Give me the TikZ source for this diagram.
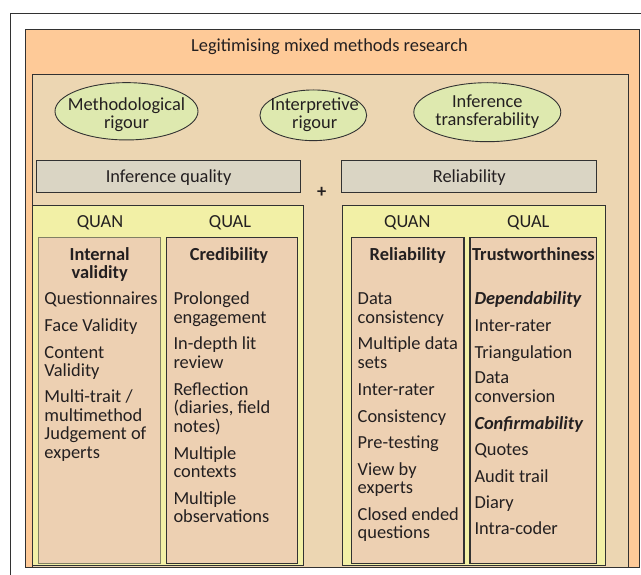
\documentclass[tikz,border=0pt]{standalone}
\usepackage{fontspec}
\setmainfont{Carlito}
\usetikzlibrary{shapes.geometric}
\definecolor{orangebg}{RGB}{254,202,152}
\definecolor{tanbg}{RGB}{236,214,178}
\definecolor{ellfill}{RGB}{222,233,175}
\definecolor{greybox}{RGB}{218,213,196}
\definecolor{yellowbg}{RGB}{242,240,166}
\definecolor{colbg}{RGB}{237,208,178}
\definecolor{linec}{RGB}{50,50,50}
\definecolor{lightline}{RGB}{130,128,100}
\definecolor{textc}{RGB}{35,31,32}
\tikzset{
  txt/.style={font=\fontsize{18.4}{18.4}\selectfont, inner sep=0pt, text=textc},
  lt/.style={txt, anchor=base west},
  ct/.style={txt, anchor=base},
  bt/.style={txt, anchor=base, font=\fontsize{18.4}{18.4}\selectfont\bfseries},
  frame/.style={draw=linec, line width=0.9pt},
  ell/.style={ellipse, draw=linec, line width=0.9pt, fill=ellfill, inner sep=0pt},
}
\begin{document}
\begin{tikzpicture}[x=1pt,y=-1pt]
\useasboundingbox (0,0) rectangle (641,575);
\clip (0,0) rectangle (641,575);
% outer frame
\draw[line width=0.9pt, draw=linec] (10.7,13.3) rectangle (700,620);
% orange box
\draw[frame, fill=orangebg] (25.7,29) rectangle (639.5,567.5);
\node[ct] (title) at (329.5,51.5) {Legitimising mixed methods research};
% tan box
\draw[frame, fill=tanbg] (32.3,74) rectangle (628.3,567.5);
% ellipses
\node[ell, minimum width=143pt, minimum height=57.3pt] (e1) at (126.5,111.3) {};
\node[ct] (e1a) at (126.5,110.5) {Methodological};
\node[ct] (e1b) at (126.5,128.2) {rigour};
\node[ell, minimum width=106.7pt, minimum height=50.7pt] (e2) at (313.3,115.3) {};
\node[ct] (e2a) at (314.7,110.5) {Interpretive};
\node[ct] (e2b) at (314.7,128.2) {rigour};
\node[ell, minimum width=147pt, minimum height=59pt] (e3) at (487.3,112.2) {};
\node[ct] (e3a) at (487.3,107.2) {Inference};
\node[ct] (e3b) at (487.3,125.5) {transferability};
% grey boxes
\draw[frame, fill=greybox] (36.7,160.7) rectangle (300.5,192.3);
\node[ct] (iq) at (168.6,182.2) {Inference quality};
\draw[frame, fill=greybox] (341.8,160.7) rectangle (596.7,192.3);
\node[ct] (rel) at (469.3,182.2) {Reliability};
\node[txt, font=\fontsize{18.4}{18.4}\selectfont\bfseries] (plus) at (321.7,192.5) {+};
% yellow panels
\draw[frame, fill=yellowbg] (32.3,205.7) rectangle (303.3,565.7);
\draw[frame, fill=yellowbg] (342.3,205.7) rectangle (605.9,565.7);
\node[ct] (q1) at (100,228) {QUAN};
\node[ct] (q2) at (230,228) {QUAL};
\node[ct] (q3) at (407.3,228) {QUAN};
\node[ct] (q4) at (528.3,228) {QUAL};
% column boxes
\draw[draw=lightline, line width=0.8pt, fill=colbg] (38.7,237.3) rectangle (160.7,563.3);
\draw[frame, fill=colbg] (166.7,237.3) rectangle (297.3,563.3);
\draw[draw=linec, line width=1.2pt, fill=colbg] (351.7,237.7) rectangle (464,563.3);
\draw[draw=linec, line width=1.2pt, fill=colbg] (470,237.7) rectangle (596.7,563.3);
% column 1: internal validity
\node[bt] (h1a) at (99.7,260.5) {Internal};
\node[bt] (h1b) at (99.7,278.8) {validity};
\node[lt] (a1) at (44.3,304.8) {Questionnaires};
\node[lt] (a2) at (44.3,331.5) {Face Validity};
\node[lt] (a3) at (44.3,358.2) {Content};
\node[lt] (a4) at (44.3,376.5) {Validity};
\node[lt] (a5) at (44.3,402.7) {Multi-trait /};
\node[lt] (a6) at (44.3,421.2) {multimethod};
\node[lt] (a7) at (44.3,439.8) {Judgement of};
\node[lt] (a8) at (44.3,458.8) {experts};
% column 2: credibility
\node[bt] (h2) at (229,260.5) {Credibility};
\node[lt] (b1) at (173.3,304.8) {Prolonged};
\node[lt] (b2) at (173.3,323.8) {engagement};
\node[lt] (b3) at (173.3,349.8) {In-depth lit};
\node[lt] (b4) at (173.3,368.2) {review};
\node[lt] (b5) at (173.3,395.5) {Reflection};
\node[lt] (b6) at (173.3,413.8) {(diaries, field};
\node[lt] (b7) at (173.3,432.2) {notes)};
\node[lt] (b8) at (173.3,459.5) {Multiple};
\node[lt] (b9) at (173.3,477.8) {contexts};
\node[lt] (b10) at (173.3,504.5) {Multiple};
\node[lt] (b11) at (173.3,522.8) {observations};
% column 3: reliability
\node[bt] (h3) at (407.7,260.5) {Reliability};
\node[lt] (c1) at (357.5,304.8) {Data};
\node[lt] (c2) at (357.5,323.8) {consistency};
\node[lt] (c3) at (357.5,349.8) {Multiple data};
\node[lt] (c4) at (357.5,368.8) {sets};
\node[lt] (c5) at (357.5,395.5) {Inter-rater};
\node[lt] (c6) at (357.5,422.2) {Consistency};
\node[lt] (c7) at (357.5,448.8) {Pre-testing};
\node[lt] (c8) at (357.5,475.5) {View by};
\node[lt] (c9) at (357.5,493.8) {experts};
\node[lt] (c10) at (357.5,520.5) {Closed ended};
\node[lt] (c11) at (357.5,538.8) {questions};
% column 4: trustworthiness
\node[bt] (h4) at (533.4,260.5) {Trustworthiness};
\node[lt] (d1) at (474.3,304.8) {\textbf{\textit{Dependability}}};
\node[lt] (d2) at (474.3,331.5) {Inter-rater};
\node[lt] (d3) at (474.3,358.2) {Triangulation};
\node[lt] (d4) at (474.3,383.8) {Data};
\node[lt] (d5) at (474.3,402.8) {conversion};
\node[lt] (d6) at (474.3,429.6) {\textbf{\textit{Confirmability}}};
\node[lt] (d7) at (474.3,455.5) {Quotes};
\node[lt] (d8) at (474.3,482.2) {Audit trail};
\node[lt] (d9) at (474.3,508.8) {Diary};
\node[lt] (d10) at (474.3,534.8) {Intra-coder};
\end{tikzpicture}
\end{document}
